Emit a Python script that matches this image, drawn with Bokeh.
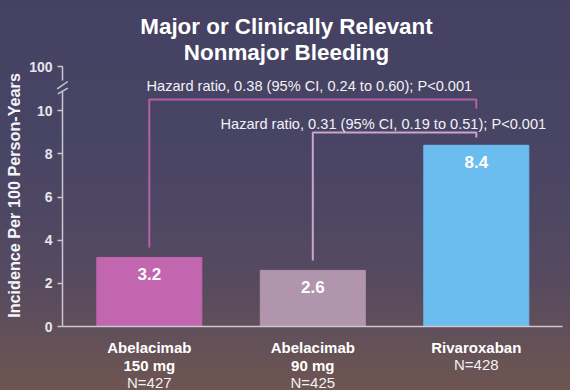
from bokeh.plotting import figure
from bokeh.models import FixedTicker, Range1d, ColumnDataSource, PrintfTickFormatter, GlobalInlineStyleSheet
from bokeh.core.properties import value
from bokeh.embed import file_html
from bokeh.resources import INLINE

# ---------------- data ----------------
categories = ["Abelacimab 150 mg", "Abelacimab 90 mg", "Rivaroxaban"]
cat_line1 = ["Abelacimab", "Abelacimab", "Rivaroxaban"]
cat_line2 = ["150 mg", "90 mg", ""]
n_labels = ["N=427", "N=425", "N=428"]
incidence = [3.2, 2.6, 8.4]
value_labels = ["3.2", "2.6", "8.4"]
bar_colors = ["#c166af", "#b095ac", "#6cbdef"]
y_ticks = [0, 2, 4, 6, 8, 10]
y_break_label = "100"
title_lines = ["Major or Clinically Relevant", "Nonmajor Bleeding"]
y_label = "Incidence Per 100 Person-Years"
hr_texts = ["Hazard ratio, 0.38 (95% CI, 0.24 to 0.60); P<0.001",
            "Hazard ratio, 0.31 (95% CI, 0.19 to 0.51); P<0.001"]
# comparisons: (from bar, to bar)
comparisons = [(0, 2), (1, 2)]

# ---------------- layout helpers ----------------
W, H = 570, 390
PXX, PXY = 163.5, 21.57          # pixels per data unit
BAR0 = 148.8                     # pixel x of first bar centre
ZERO = 326                       # pixel y of value 0
x_start = -BAR0 / PXX
x_end = x_start + W / PXX
y_end = ZERO / PXY
y_start = y_end - H / PXY

def X(px):
    return x_start + px / PXX

def Y(py):
    return (ZERO - py) / PXY

Y100 = Y(66)                     # display position of the "100" tick (axis break)
FONT = value("Liberation Sans")

xs = list(range(len(categories)))

p = figure(width=W, height=H, x_range=Range1d(x_start, x_end), y_range=Range1d(y_start, y_end),
           output_backend="svg", toolbar_location=None, min_border=0,
           background_fill_alpha=0, border_fill_alpha=0, outline_line_color=None)
p.grid.visible = False

p.stylesheets = [GlobalInlineStyleSheet(css="""
html { height: 100%; background: linear-gradient(180deg, #444162 0%, #484464 35%, #4e4763 55%, #574a5f 72%, #625059 86%, #6e5551 100%) no-repeat; background-color: #6e5551; }
""")]

AXC = "#c9c8d2"

# x axis
p.xaxis.fixed_location = 0
p.xaxis.bounds = (X(62), X(562))
p.xaxis.ticker = FixedTicker(ticks=[])
p.xaxis.axis_line_color = AXC
p.xaxis.axis_line_width = 1.5
p.xaxis.major_tick_line_color = None
p.xaxis.minor_tick_line_color = None

# y axis
p.yaxis.fixed_location = X(62)
p.yaxis.ticker = FixedTicker(ticks=y_ticks + [Y100])
p.yaxis.formatter = PrintfTickFormatter(format="%d")
p.yaxis.major_label_overrides = {Y100: y_break_label}
p.yaxis.axis_line_color = None
p.yaxis.major_tick_out = 5
p.yaxis.major_tick_in = 0
p.yaxis.minor_tick_line_color = None
p.yaxis.major_tick_line_color = AXC
p.yaxis.major_tick_line_width = 1.5
p.yaxis.major_label_standoff = 5
p.yaxis.major_label_text_font = "Liberation Sans"
p.yaxis.major_label_text_font_size = "14px"
p.yaxis.major_label_text_font_style = "bold"
p.yaxis.major_label_text_color = "#e6e5ee"
p.yaxis.axis_label = y_label
p.yaxis.axis_label_text_font = "Liberation Sans"
p.yaxis.axis_label_text_font_size = "16.2px"
p.yaxis.axis_label_text_font_style = "bold"
p.yaxis.axis_label_text_color = "#f4f4f8"
p.yaxis.axis_label_standoff = 3

# broken y-axis line
p.segment(x0=[X(62), X(62)], y0=[0, Y(80)], x1=[X(62), X(62)], y1=[Y(91), Y100],
          line_color=AXC, line_width=1.5)
p.segment(x0=[X(56.7), X(57.3)], y0=[Y(88.3), Y(93.3)], x1=[X(67.3), X(67.3)], y1=[Y(81), Y(87.7)],
          line_color=AXC, line_width=1.5)

# bars
src = ColumnDataSource(dict(x=xs, top=incidence, color=bar_colors, lab=value_labels,
                            laby=[v - 17 / PXY for v in incidence]))
p.vbar(x="x", top="top", width=105 / PXX, color="color", source=src)
p.text(x="x", y="laby", text="lab", source=src, text_align="center", text_baseline="alphabetic",
       text_font=FONT, text_font_size="17px", text_font_style="bold", text_color="#ffffff")

# category labels
p.text(x=xs, y=[Y(347)] * 3, text=cat_line1, text_align="center", text_baseline="alphabetic",
       text_font=FONT, text_font_size="15px", text_font_style="bold", text_color="#ffffff")
p.text(x=xs, y=[Y(365)] * 3, text=cat_line2, text_align="center", text_baseline="alphabetic",
       text_font=FONT, text_font_size="15px", text_font_style="bold", text_color="#ffffff")
p.text(x=xs, y=[Y(382) if l2 else Y(364) for l2 in cat_line2], text=n_labels,
       text_align="center", text_baseline="alphabetic",
       text_font=FONT, text_font_size="15px", text_color="#f2f0f4")

# title
p.text(x=[X(286)] * 2, y=[Y(26), Y(52)], text=title_lines, text_align="center",
       text_baseline="alphabetic", text_font=FONT, text_font_size="22.4px",
       text_font_style="bold", text_color="#ffffff")

# significance brackets
gap = 0.46
levels = [Y(99), Y(132)]
right_drop = [Y(99) - Y(108), Y(132) - Y(137)]
bracket_colors = ["#b560a9", "#cba6cc"]
bxs, bys = [], []
for (a, b), lev, drop in zip(comparisons, levels, right_drop):
    bxs.append([a, a, b, b])
    bys.append([incidence[a] + gap, lev, lev, lev - drop])
p.multi_line(xs=bxs, ys=bys, line_color=bracket_colors, line_width=2)

p.text(x=[X(146), X(220)], y=[Y(85.5), Y(123.5)], text=hr_texts, text_align="left",
       text_baseline="alphabetic", text_font=FONT, text_font_size="14.6px", text_color="#f2f1f6")

open("out.html", "w").write(file_html(p, INLINE))
